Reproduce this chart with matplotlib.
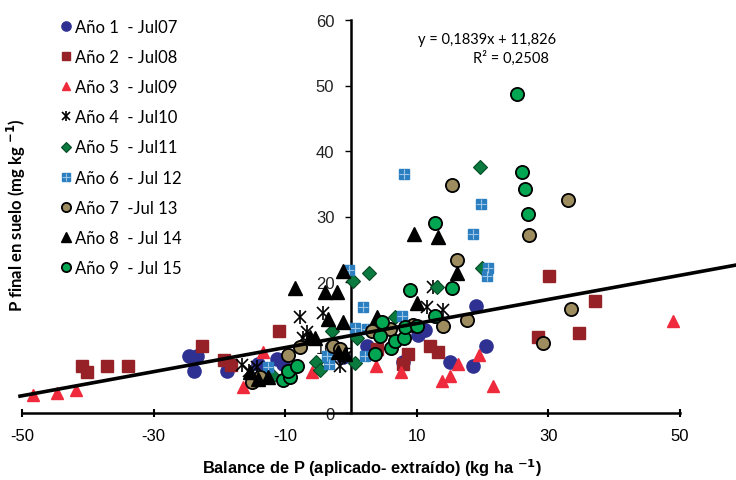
import numpy as np
import matplotlib
matplotlib.use("Agg")
import matplotlib.pyplot as plt

plt.rcParams['font.family'] = ['Liberation Sans', 'DejaVu Sans']

# data (x = balance de P, y = P final)
a1_x = [-24.6, -23.4, -23.9, -18.8, -14.1, -11.2, -10.3, -1.2, 2.4, 7.9, 10.2, 11.2, 15.0, 18.5, 19.0, 20.5]
a1_y = [8.7, 8.7, 6.4, 6.4, 7.5, 8.2, 7.5, 8.5, 10.2, 7.8, 11.9, 12.7, 7.8, 7.2, 16.3, 10.2]

a2_x = [-40.9, -40.1, -37.1, -33.9, -22.6, -19.3, -18.2, -10.9, 4.0, 7.9, 8.7, 12.0, 13.2, 28.4, 30.1, 34.7, 37.1]
a2_y = [7.2, 6.3, 7.2, 7.2, 10.2, 8.1, 7.3, 12.5, 9.8, 7.5, 9.0, 10.2, 9.3, 11.6, 20.9, 12.2, 17.1]

a3_x = [-48.3, -44.7, -41.8, -16.4, -13.4, -5.9, 3.8, 7.6, 13.8, 15.0, 16.3, 19.5, 21.6, 48.9]
a3_y = [2.7, 3.1, 3.5, 4.0, 9.3, 6.3, 7.2, 6.3, 4.9, 5.6, 7.5, 8.9, 4.1, 14.0]

a4_x = [-16.6, -15.5, -14.3, -7.8, -4.3, -6.7, -7.3, -1.7, -0.9, 12.5, 11.6, 14.0]
a4_y = [7.3, 6.4, 7.0, 14.7, 15.3, 12.4, 11.5, 7.2, 8.5, 19.2, 16.2, 15.7]

a5_x = [-11.9, -5.3, -4.7, -2.9, 0.3, 0.6, 0.9, 2.7, 6.7, 13.1, 19.6, 19.9]
a5_y = [5.6, 7.8, 6.6, 12.5, 20.2, 7.6, 11.5, 21.4, 14.7, 19.2, 37.6, 22.1]

a6_x = [-12.6, -3.6, -3.3, -0.3, 0.6, 1.8, 2.1, 2.4, 7.8, 8.1, 18.5, 19.8, 20.7, 20.8]
a6_y = [7.0, 8.7, 7.5, 21.8, 13.0, 16.2, 8.7, 12.8, 14.8, 36.5, 27.3, 31.9, 20.9, 22.1]

a7_x = [-15.0, -13.8, -9.6, -7.8, -2.7, -1.7, 3.2, 5.9, 9.4, 14.0, 16.1, 17.6, 15.3, 27.1, 29.2, 33.0, 33.4]
a7_y = [4.7, 5.5, 8.9, 10.1, 10.2, 9.8, 12.5, 12.8, 13.4, 13.3, 23.4, 14.2, 34.8, 27.2, 10.7, 32.5, 15.9]

a8_x = [-15.3, -14.1, -12.6, -8.5, -6.2, -5.5, -4.0, -3.5, -2.1, -1.2, -1.2, -2.0, -0.9, 4.0, 10.0, 9.6, 13.2, 16.1]
a8_y = [6.3, 5.2, 5.5, 19.1, 11.6, 11.5, 18.5, 14.4, 18.5, 13.9, 21.7, 9.3, 9.0, 14.7, 16.8, 27.3, 26.9, 21.4]

a9_x = [-10.3, -9.3, -9.6, -8.2, 3.6, 4.4, 4.7, 6.1, 6.7, 8.1, 8.2, 9.0, 10.0, 12.8, 12.8, 15.3, 25.2, 26.0, 26.4, 26.9]
a9_y = [5.0, 5.5, 6.4, 7.2, 9.0, 11.8, 13.9, 9.9, 11.0, 11.5, 13.1, 18.8, 13.3, 14.8, 29.0, 19.1, 48.7, 36.8, 34.2, 30.4]

labels = ['Año 1  - Jul07', 'Año 2  - Jul08', 'Año 3  - Jul09', 'Año 4  - Jul10',
          'Año 5  - Jul11', 'Año 6  - Jul 12', 'Año 7  -Jul 13', 'Año 8  - Jul 14',
          'Año 9  - Jul 15']

slope = 0.1839
intercept = 11.826

fig = plt.figure(figsize=(7.36, 4.81), dpi=100)
ax = fig.add_axes([22/736, 1-414/481, 658/736, 393/481])

handles = []
h = ax.plot(a1_x, a1_y, 'o', ms=9.5, color='#2E3192', mec='#2E3192', zorder=3)[0]
handles.append(h)
h = ax.plot(a2_x, a2_y, 's', ms=8.5, color='#962227', mec='#962227', zorder=3)[0]
handles.append(h)
h = ax.plot(a3_x, a3_y, '^', ms=9, color='#EE2A3C', mec='#EE2A3C', zorder=3)[0]
handles.append(h)
h1 = ax.plot(a4_x, a4_y, 'x', ms=8, color='black', mew=1.2, zorder=3)[0]
h2 = ax.plot(a4_x, a4_y, '|', ms=10, color='black', mew=1.2, zorder=3)[0]
handles.append((h1, h2))
h = ax.plot(a5_x, a5_y, 'D', ms=7, color='#0B7A3E', mec='#054A24', mew=0.8, zorder=3)[0]
handles.append(h)
h1 = ax.plot(a6_x, a6_y, 's', ms=7.5, color='#2B7FC0', mec='#2B7FC0', zorder=3)[0]
h2 = ax.plot(a6_x, a6_y, '+', ms=7.5, color='#9CC4E6', mew=0.8, zorder=3)[0]
handles.append((h1, h2))
h = ax.plot(a7_x, a7_y, 'o', ms=9.5, color='#9C8C5E', mec='black', mew=1.3, zorder=3)[0]
handles.append(h)
h = ax.plot(a8_x, a8_y, '^', ms=10, color='black', zorder=3)[0]
handles.append(h)
h = ax.plot(a9_x, a9_y, 'o', ms=9.5, color='#00A651', mec='black', mew=1.3, zorder=3)[0]
handles.append(h)

# trend line
tx = np.array([-50.3, 58.5])
ax.plot(tx, slope*tx + intercept, color='black', lw=2.6, zorder=4, clip_on=False)

ax.set_xlim(-50, 50)
ax.set_ylim(0, 60)
ax.spines['top'].set_visible(False)
ax.spines['right'].set_visible(False)
ax.spines['left'].set_position(('data', 0))
ax.spines['left'].set_linewidth(1.8)
ax.spines['bottom'].set_linewidth(1.8)
ax.set_xticks([-50, -30, -10, 10, 30, 50])
ax.set_xticklabels(['-50', '-30', '-10', '10', '30', '50'])
ax.set_yticks([0, 10, 20, 30, 40, 50, 60])
ax.tick_params(axis='x', direction='inout', length=6, width=1.5, labelsize=12, pad=8)
ax.tick_params(axis='y', direction='out', length=4, width=1, labelsize=12, pad=8,
               labelcolor='#222222')

ax.text(487/736, 1-40/481, 'y = 0,1839x + 11,826', transform=fig.transFigure,
        ha='center', va='center', fontsize=10.5, family=['Lato', 'DejaVu Sans'])
ax.text(511/736, 1-58/481, 'R² = 0,2508', transform=fig.transFigure,
        ha='center', va='center', fontsize=10.5, family=['Lato', 'DejaVu Sans'])

fig.text(0.505, 0.027, 'Balance de P (aplicado- extraído) (kg ha $^{\\mathbf{-1}}$)',
         ha='center', va='center', fontsize=11.8, fontweight='bold')
fig.text(0.022, 0.553, 'P final en suelo (mg kg $^{\\mathbf{-1}}$)', rotation=90,
         ha='center', va='center', fontsize=12, fontweight='bold',
         family=['Lato', 'DejaVu Sans'])

leg = fig.legend(handles, labels, loc='upper left', bbox_to_anchor=(0.060, 0.99),
                 frameon=False, handlelength=0.8, handletextpad=0.15, labelspacing=0.85,
                 markerscale=0.7, prop={'family': ['Lato', 'DejaVu Sans'], 'size': 12})

fig.savefig('out.png', dpi=100)
